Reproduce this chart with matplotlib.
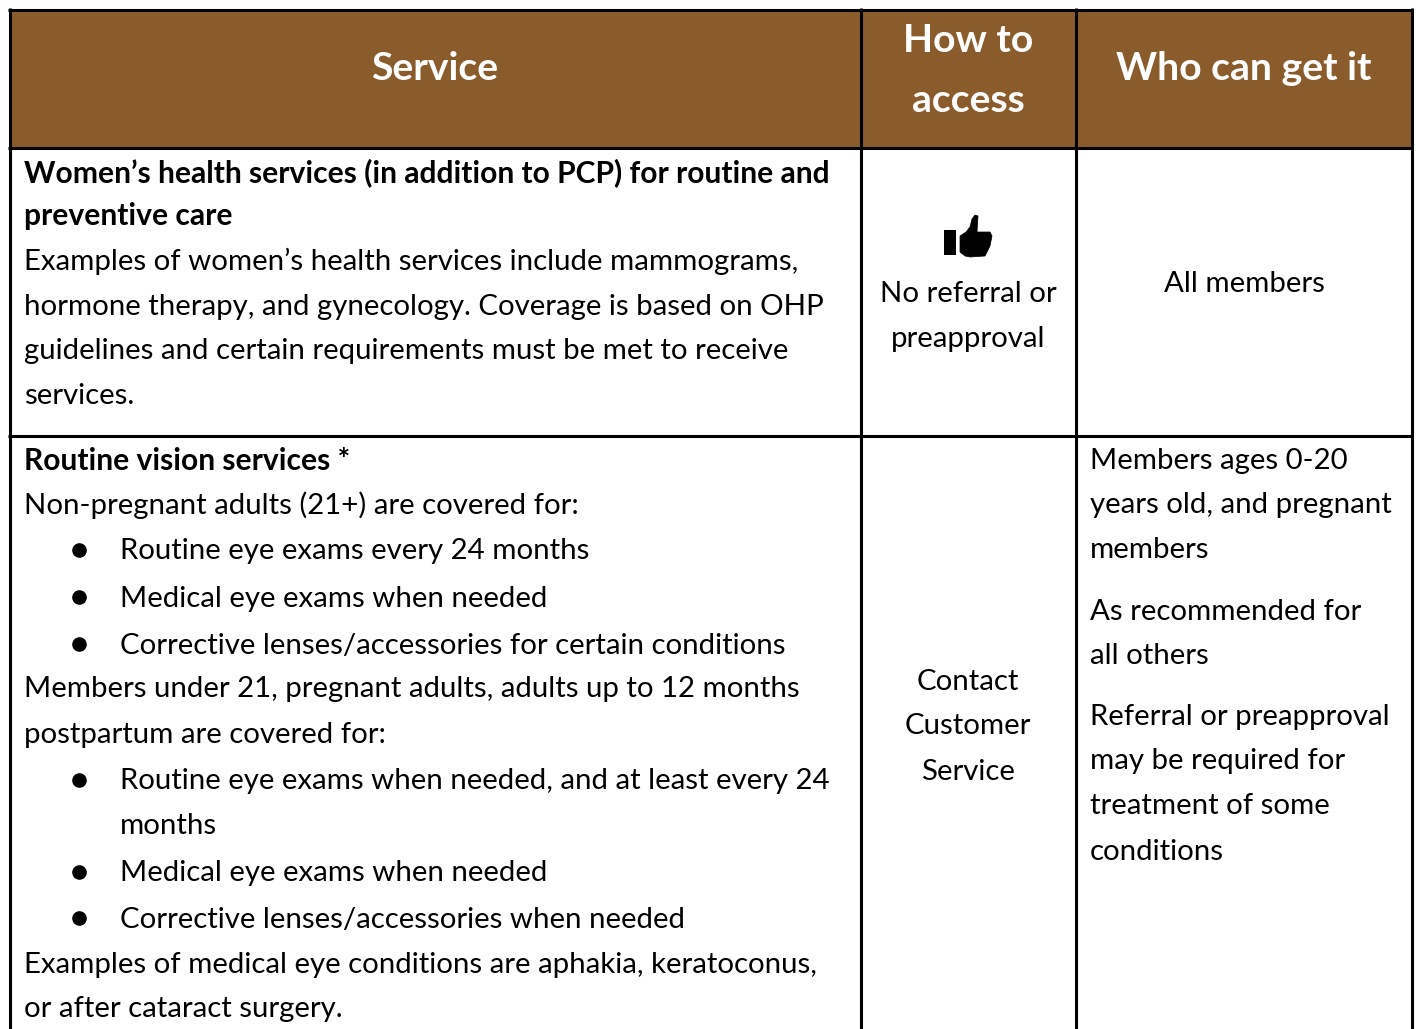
"""Table of covered services, drawn as text and lines on a pixel-sized axes."""

import matplotlib

matplotlib.use("Agg")
import matplotlib.pyplot as plt
from matplotlib.patches import Polygon, Rectangle

W, H = 1416, 1029
BROWN = "#8A5C2C"
FONT = ["Lato", "DejaVu Sans"]
BODY = 21.2
BOLD = 21.65
HEAD = 28.2

HEADERS = [("Service", 435, 69), ("How to", 968, 40), ("access", 968, 100), ("Who can get it", 1244, 69)]

# (text, x, y, bold)
LEFT_LINES = [
    ("Women\u2019s health services (in addition to PCP) for routine and", 24, 170, True),
    ("preventive care", 24, 214, True),
    ("Examples of women\u2019s health services include mammograms,", 24, 259, False),
    ("hormone therapy, and gynecology. Coverage is based on OHP", 24, 304, False),
    ("guidelines and certain requirements must be met to receive", 24, 349, False),
    ("services.", 24, 394, False),
    ("Routine vision services *", 24, 458, True),
    ("Non-pregnant adults (21+) are covered for:", 24, 503, False),
    ("Routine eye exams every 24 months", 120, 549, False),
    ("Medical eye exams when needed", 120, 596, False),
    ("Corrective lenses/accessories for certain conditions", 120, 643, False),
    ("Members under 21, pregnant adults, adults up to 12 months", 24, 687, False),
    ("postpartum are covered for:", 24, 732, False),
    ("Routine eye exams when needed, and at least every 24", 120, 779, False),
    ("months", 120, 824, False),
    ("Medical eye exams when needed", 120, 871, False),
    ("Corrective lenses/accessories when needed", 120, 917, False),
    ("Examples of medical eye conditions are aphakia, keratoconus,", 24, 962, False),
    ("or after cataract surgery.", 24, 1007, False),
]
BULLET_Y = [550, 597, 644, 780, 872, 918]

MID_LINES = [
    ("No referral or", 291),
    ("preapproval", 336),
    ("Contact", 679),
    ("Customer", 724),
    ("Service", 769),
]

RIGHT_LINES = [
    ("Members ages 0-20", 458),
    ("years old, and pregnant", 503),
    ("members", 548),
    ("As recommended for", 609),
    ("all others", 653),
    ("Referral or preapproval", 714),
    ("may be required for", 759),
    ("treatment of some", 804),
    ("conditions", 849),
]

fig = plt.figure(figsize=(W / 100, H / 100), dpi=100)
ax = fig.add_axes([0, 0, 1, 1])
ax.set_xlim(0, W)
ax.set_ylim(H, 0)
ax.axis("off")

ax.add_patch(Rectangle((9, 9), 1404, 139, fc=BROWN, ec="none"))

# grid lines
for x in [9.5, 860.5, 1075.5, 1412]:
    ax.plot([x, x], [8, H], color="black", lw=2.2, solid_capstyle="butt")
for y in [9.5, 147.5, 435.5]:
    ax.plot([8, 1413], [y, y], color="black", lw=2.2, solid_capstyle="butt")

for text, x, y in HEADERS:
    ax.text(x, y, text, color="white", fontsize=HEAD, fontweight="bold",
            ha="center", va="center", family=FONT)

for text, x, y, bold in LEFT_LINES:
    ax.text(x, y, text, fontsize=BOLD if bold else BODY, fontweight="bold" if bold else "normal",
            va="center_baseline", color="black", family=FONT)
for y in BULLET_Y:
    ax.plot(79, y, "o", color="black", ms=9.5)

for text, y in MID_LINES:
    ax.text(968, y, text, fontsize=BODY, ha="center", va="center_baseline",
            color="black", family=FONT)
ax.text(1244, 282, "All members", fontsize=BODY, ha="center", va="center_baseline",
        color="black", family=FONT)
for text, y in RIGHT_LINES:
    ax.text(1090, y, text, fontsize=BODY, va="center_baseline", color="black", family=FONT)

# thumbs-up icon
ax.add_patch(Rectangle((944, 230), 12, 25, fc="black", ec="none"))
ax.add_patch(Polygon([(960, 236), (966, 232), (970, 227), (972, 219), (975, 215), (978, 216),
                      (977, 232), (990, 232), (992, 236), (991, 241), (990, 246), (988, 250),
                      (985, 256), (970, 257), (965, 256), (960, 252)],
                     closed=True, fc="black", ec="black", lw=0.5, joinstyle="round"))

fig.savefig("out.png", dpi=100)
